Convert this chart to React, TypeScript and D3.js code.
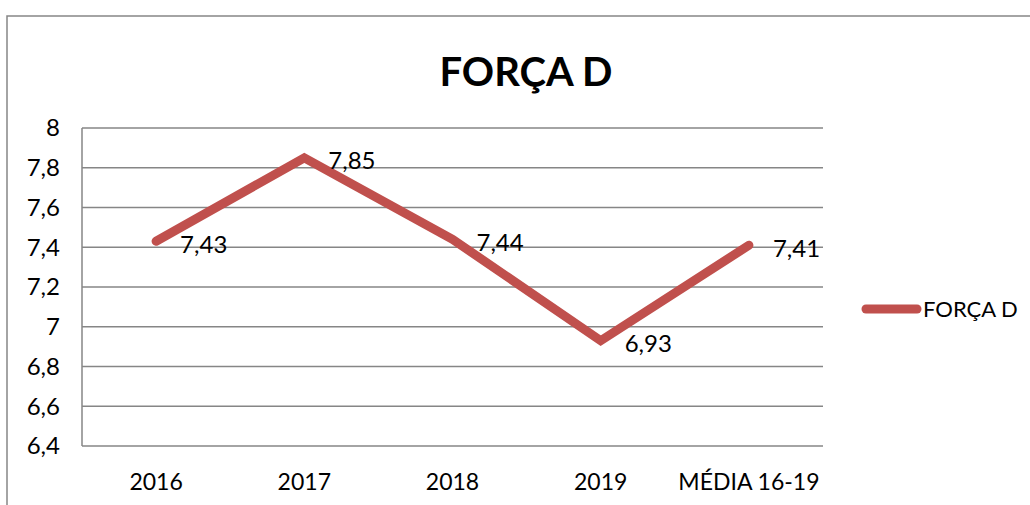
import React from "react";
import * as d3 from "d3";

const categories = ["2016", "2017", "2018", "2019", "MÉDIA 16-19"];
const values = [7.43, 7.85, 7.44, 6.93, 7.41];
const valueLabels = ["7,43", "7,85", "7,44", "6,93", "7,41"];
const yTicks = [6.4, 6.6, 6.8, 7, 7.2, 7.4, 7.6, 7.8, 8];
const seriesName = "FORÇA D";
const title = "FORÇA D";

const W = 1030;
const H = 505;
const FONT = "Lato, 'Open Sans', sans-serif";

export default function App() {
  const left = 82, right = 823, top = 128, bottom = 446;
  const x = d3.scaleBand<string>().domain(categories).range([left, right]);
  const y = d3.scaleLinear().domain([6.4, 8]).range([bottom, top]);
  const fmt = (v: number) => String(v).replace(".", ",");
  const line = d3
    .line<number>()
    .x((_, i) => (x(categories[i]) as number) + x.bandwidth() / 2)
    .y((d) => y(d));
  const color = "#C0504D";
  return (
    <svg
      width={W}
      height={H}
      style={{ position: "absolute", left: 0, top: 0 }}
      fontFamily={FONT}
    >
      <rect x={0} y={0} width={W} height={H} fill="#fff" />
      <rect x={7} y={16} width={W + 20} height={H + 20} fill="none" stroke="#868686" strokeWidth={1.5} />
      <text x={526} y={72} dy="0.35em" textAnchor="middle" fontSize={40} fontWeight="bold" fill="#000">
        {title}
      </text>
      {yTicks.map((t) => (
        <g key={t}>
          <line x1={left} x2={right} y1={y(t)} y2={y(t)} stroke="#868686" strokeWidth={1.5} />
          <text x={60} y={y(t)} dy="0.35em" textAnchor="end" fontSize={24} fill="#000">
            {fmt(t)}
          </text>
        </g>
      ))}
      <line x1={left} x2={left} y1={top} y2={bottom} stroke="#868686" strokeWidth={1.5} />
      {categories.map((c) => (
        <text key={c} x={(x(c) as number) + x.bandwidth() / 2} y={482} dy="0.35em" textAnchor="middle" fontSize={23} fill="#000">
          {c}
        </text>
      ))}
      <path d={line(values) || ""} fill="none" stroke={color} strokeWidth={9} strokeLinecap="round" strokeLinejoin="miter" />
      {values.map((v, i) => (
        <text key={i} x={(x(categories[i]) as number) + x.bandwidth() / 2 + 24} y={y(v) + 3} dy="0.35em" fontSize={24} fill="#000">
          {valueLabels[i]}
        </text>
      ))}
      <line x1={866} x2={917} y1={309} y2={309} stroke={color} strokeWidth={9} strokeLinecap="round" />
      <text x={923} y={309} dy="0.35em" fontSize={22} fill="#000">
        {seriesName}
      </text>
    </svg>
  );
}
